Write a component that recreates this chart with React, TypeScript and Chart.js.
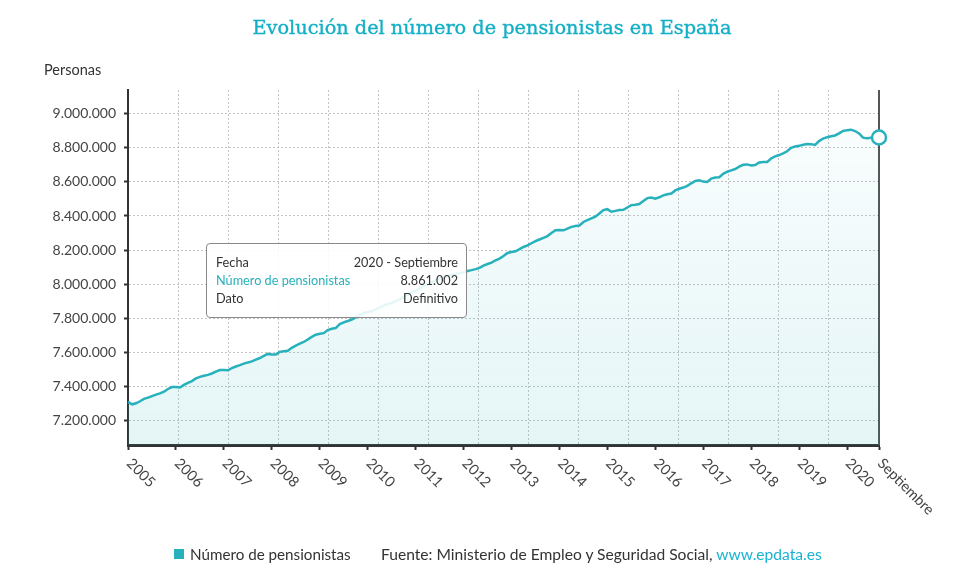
import { useEffect, useRef } from "react";
import { Chart, registerables } from "chart.js";

Chart.register(...registerables);

const TITLE = "Evolución del número de pensionistas en España";
const Y_TITLE = "Personas";
const SERIES_NAME = "Número de pensionistas";
const SOURCE_TEXT = "Fuente: Ministerio de Empleo y Seguridad Social, ";
const SOURCE_LINK = "www.epdata.es";

const YEARS = [2005, 2006, 2007, 2008, 2009, 2010, 2011, 2012, 2013, 2014, 2015, 2016, 2017, 2018, 2019, 2020];
const LAST_MONTH_LABEL = "Septiembre";

const Y_TICKS = [7200000, 7400000, 7600000, 7800000, 8000000, 8200000, 8400000, 8600000, 8800000, 9000000];
const Y_MIN = 7055000;
const Y_MAX = 9140000;
const GRID_DIVISIONS = 15;

// Monthly values, January to December (2020: January to September)
const p2005 = [7308000, 7294000, 7300000, 7312000, 7326000, 7333000, 7342000, 7351000, 7358000, 7368000, 7384000, 7395000];
const p2006 = [7396000, 7393000, 7408000, 7420000, 7430000, 7446000, 7455000, 7462000, 7467000, 7475000, 7486000, 7495000];
const p2007 = [7496000, 7494000, 7506000, 7516000, 7524000, 7533000, 7540000, 7546000, 7556000, 7566000, 7578000, 7590000];
const p2008 = [7586000, 7587000, 7602000, 7606000, 7608000, 7626000, 7638000, 7650000, 7660000, 7675000, 7690000, 7703000];
const p2009 = [7708000, 7712000, 7730000, 7738000, 7742000, 7765000, 7775000, 7783000, 7792000, 7805000, 7818000, 7830000];
const p2010 = [7836000, 7840000, 7852000, 7862000, 7874000, 7882000, 7890000, 7900000, 7912000, 7925000, 7940000, 7953000];
const p2011 = [7962000, 7975000, 7990000, 8000000, 8010000, 8024000, 8032000, 8040000, 8048000, 8055000, 8060000, 8065000];
const p2012 = [8068000, 8077000, 8082000, 8088000, 8095000, 8108000, 8118000, 8126000, 8140000, 8150000, 8165000, 8183000];
const p2013 = [8189000, 8193000, 8205000, 8218000, 8227000, 8240000, 8252000, 8262000, 8272000, 8282000, 8300000, 8316000];
const p2014 = [8318000, 8316000, 8326000, 8336000, 8341000, 8344000, 8365000, 8376000, 8386000, 8396000, 8415000, 8435000];
const p2015 = [8440000, 8425000, 8430000, 8435000, 8436000, 8450000, 8464000, 8466000, 8470000, 8488000, 8505000, 8509000];
const p2016 = [8502000, 8510000, 8521000, 8528000, 8532000, 8550000, 8560000, 8567000, 8577000, 8592000, 8606000, 8610000];
const p2017 = [8602000, 8600000, 8620000, 8626000, 8628000, 8648000, 8660000, 8668000, 8676000, 8690000, 8701000, 8703000];
const p2018 = [8697000, 8699000, 8714000, 8717000, 8717000, 8738000, 8750000, 8758000, 8768000, 8780000, 8800000, 8808000];
const p2019 = [8812000, 8818000, 8823000, 8822000, 8817000, 8840000, 8855000, 8863000, 8868000, 8873000, 8885000, 8900000];
const p2020 = [8903000, 8907000, 8899000, 8885000, 8860000, 8857000, 8859000, 8860000, 8861002];

const SERIES = [
  ...p2005, ...p2006, ...p2007, ...p2008, ...p2009, ...p2010, ...p2011, ...p2012,
  ...p2013, ...p2014, ...p2015, ...p2016, ...p2017, ...p2018, ...p2019, ...p2020,
];
const LAST_INDEX = SERIES.length - 1;
const X_TICK_VALUES = [...YEARS.map((_, i) => i * 12), LAST_INDEX];
const X_TICK_LABELS = [...YEARS.map(String), LAST_MONTH_LABEL];

const TOOLTIP_ROWS: [string, string, boolean][] = [
  ["Fecha", `${YEARS[YEARS.length - 1]} - ${LAST_MONTH_LABEL}`, false],
  [SERIES_NAME, "", true],
  ["Dato", "Definitivo", false],
];

const TEAL = "#27b1bc";
const TEXT = "#3c3c3c";
const FONT = "Lato, 'Open Sans', sans-serif";

function fmt(n: number): string {
  return Math.round(n).toString().replace(/\B(?=(\d{3})+(?!\d))/g, ".");
}

const decorPlugin = {
  id: "decor",
  beforeDatasetsDraw(chart: any) {
    const { ctx, chartArea, scales } = chart;
    const x = scales.x.getPixelForValue(LAST_INDEX);
    ctx.save();
    ctx.strokeStyle = "#555";
    ctx.lineWidth = 2;
    ctx.beginPath();
    ctx.moveTo(x, chartArea.top);
    ctx.lineTo(x, chartArea.bottom);
    ctx.stroke();
    ctx.restore();
  },
  afterDraw(chart: any) {
    const { ctx, scales } = chart;
    const xs = scales.x;
    ctx.save();
    ctx.font = `14.5px ${FONT}`;
    ctx.fillStyle = "#444";
    ctx.textAlign = "left";
    ctx.textBaseline = "middle";
    X_TICK_VALUES.forEach((v, i) => {
      const px = xs.getPixelForValue(v);
      ctx.save();
      ctx.translate(px + 1, xs.top + 16);
      ctx.rotate(Math.PI / 4);
      ctx.fillText(X_TICK_LABELS[i], 0, 0);
      ctx.restore();
    });
    ctx.restore();
  },
};

export default function App() {
  const canvasRef = useRef<HTMLCanvasElement | null>(null);

  useEffect(() => {
    const canvas = canvasRef.current;
    if (!canvas) return;
    const chart = new Chart(canvas, {
      type: "line",
      data: {
        datasets: [
          {
            label: SERIES_NAME,
            data: SERIES.map((v, i) => ({ x: i, y: v })),
            borderColor: TEAL,
            borderWidth: 2.5,
            tension: 0,
            clip: false as any,
            fill: "start",
            backgroundColor: (c: any) => {
              const a = c.chart.chartArea;
              if (!a) return "rgba(39,177,188,0.06)";
              const g = c.chart.ctx.createLinearGradient(0, a.top, 0, a.bottom);
              g.addColorStop(0, "rgba(39,177,188,0.02)");
              g.addColorStop(1, "rgba(39,177,188,0.12)");
              return g;
            },
            pointRadius: (c: any) => (c.dataIndex === LAST_INDEX ? 7 : 0),
            pointBorderWidth: 2.5,
            pointBackgroundColor: "#ffffff",
            pointBorderColor: TEAL,
          },
        ],
      },
      options: {
        responsive: false,
        animation: false,
        events: [],
        layout: { padding: { left: 0, right: 84, top: 90, bottom: 0 } },
        plugins: {
          legend: { display: false },
          tooltip: { enabled: false },
          title: { display: false },
        },
        scales: {
          x: {
            type: "linear",
            position: "bottom",
            min: 0,
            max: LAST_INDEX,
            afterBuildTicks: (s: any) => {
              s.ticks = X_TICK_VALUES.map((v) => ({ value: v }));
            },
            ticks: { display: false },
            grid: {
              drawOnChartArea: false,
              drawTicks: true,
              tickLength: 5,
              tickColor: "#333",
              tickWidth: 2,
              color: "#333",
            },
            border: { display: true, color: "#333", width: 3 },
            afterFit: (s: any) => {
              s.height = 143;
            },
          },
          xg: {
            type: "linear",
            position: "top",
            min: 0,
            max: LAST_INDEX,
            afterBuildTicks: (s: any) => {
              const t = [];
              for (let k = 1; k < GRID_DIVISIONS; k++) t.push({ value: (k * LAST_INDEX) / GRID_DIVISIONS });
              s.ticks = t;
            },
            ticks: { display: false },
            grid: { drawTicks: false, color: "#c4c4c4", lineWidth: 1 },
            border: { display: false, dash: [2, 2] },
            afterFit: (s: any) => {
              s.height = 0;
            },
          },
          y: {
            min: Y_MIN,
            max: Y_MAX,
            afterBuildTicks: (s: any) => {
              s.ticks = Y_TICKS.map((v) => ({ value: v }));
            },
            ticks: {
              callback: (v: any) => fmt(Number(v)),
              color: "#444",
              font: { family: FONT, size: 14 },
              padding: 8,
            },
            grid: { color: "#c4c4c4", tickColor: "#333", tickLength: 4, tickWidth: 2 },
            border: { color: "#333", width: 2, dash: [2, 2] },
            afterFit: (s: any) => {
              s.width = 128;
            },
          },
        },
      } as any,
      plugins: [decorPlugin],
    });
    return () => chart.destroy();
  }, []);

  const lastValue = SERIES[LAST_INDEX];

  return (
    <div style={{ position: "absolute", left: 0, top: 0, width: 963, height: 588, background: "#fff", fontFamily: FONT, color: TEXT }}>
      <canvas ref={canvasRef} width={963} height={588} style={{ position: "absolute", left: 0, top: 0 }} />
      <div
        style={{
          position: "absolute",
          left: 0,
          top: 15,
          width: 984,
          textAlign: "center",
          fontFamily: "'DejaVu Serif', serif",
          fontSize: 19.3,
          lineHeight: "26px",
          color: "#13afc6",
          WebkitTextStroke: "0.35px #13afc6",
        }}
      >
        {TITLE}
      </div>
      <div style={{ position: "absolute", left: 44, top: 61, fontSize: 14.5, lineHeight: "18px", color: "#333" }}>{Y_TITLE}</div>
      <div
        style={{
          position: "absolute",
          left: 206,
          top: 243,
          width: 261,
          height: 75,
          boxSizing: "border-box",
          border: "1px solid #8a8a8a",
          borderRadius: 4,
          background: "rgba(255,255,255,0.88)",
          padding: "9px 8px 0 9px",
          fontSize: 12.7,
          lineHeight: "18px",
          color: "#333",
        }}
      >
        {TOOLTIP_ROWS.map(([k, v, teal]) => (
          <div key={k} style={{ display: "flex", justifyContent: "space-between" }}>
            <span style={{ color: teal ? TEAL : "#333" }}>{k}</span>
            <span>{teal ? fmt(lastValue) : v}</span>
          </div>
        ))}
      </div>
      <div style={{ position: "absolute", left: 174, top: 549, width: 10, height: 10, background: TEAL }} />
      <div style={{ position: "absolute", left: 190, top: 545, fontSize: 15.2, lineHeight: "18px", color: "#333", whiteSpace: "nowrap" }}>{SERIES_NAME}</div>
      <div style={{ position: "absolute", left: 381, top: 545, fontSize: 15.6, lineHeight: "18px", color: "#333", whiteSpace: "nowrap" }}>
        {SOURCE_TEXT}
        <span style={{ color: "#19b3d3" }}>{SOURCE_LINK}</span>
      </div>
    </div>
  );
}
